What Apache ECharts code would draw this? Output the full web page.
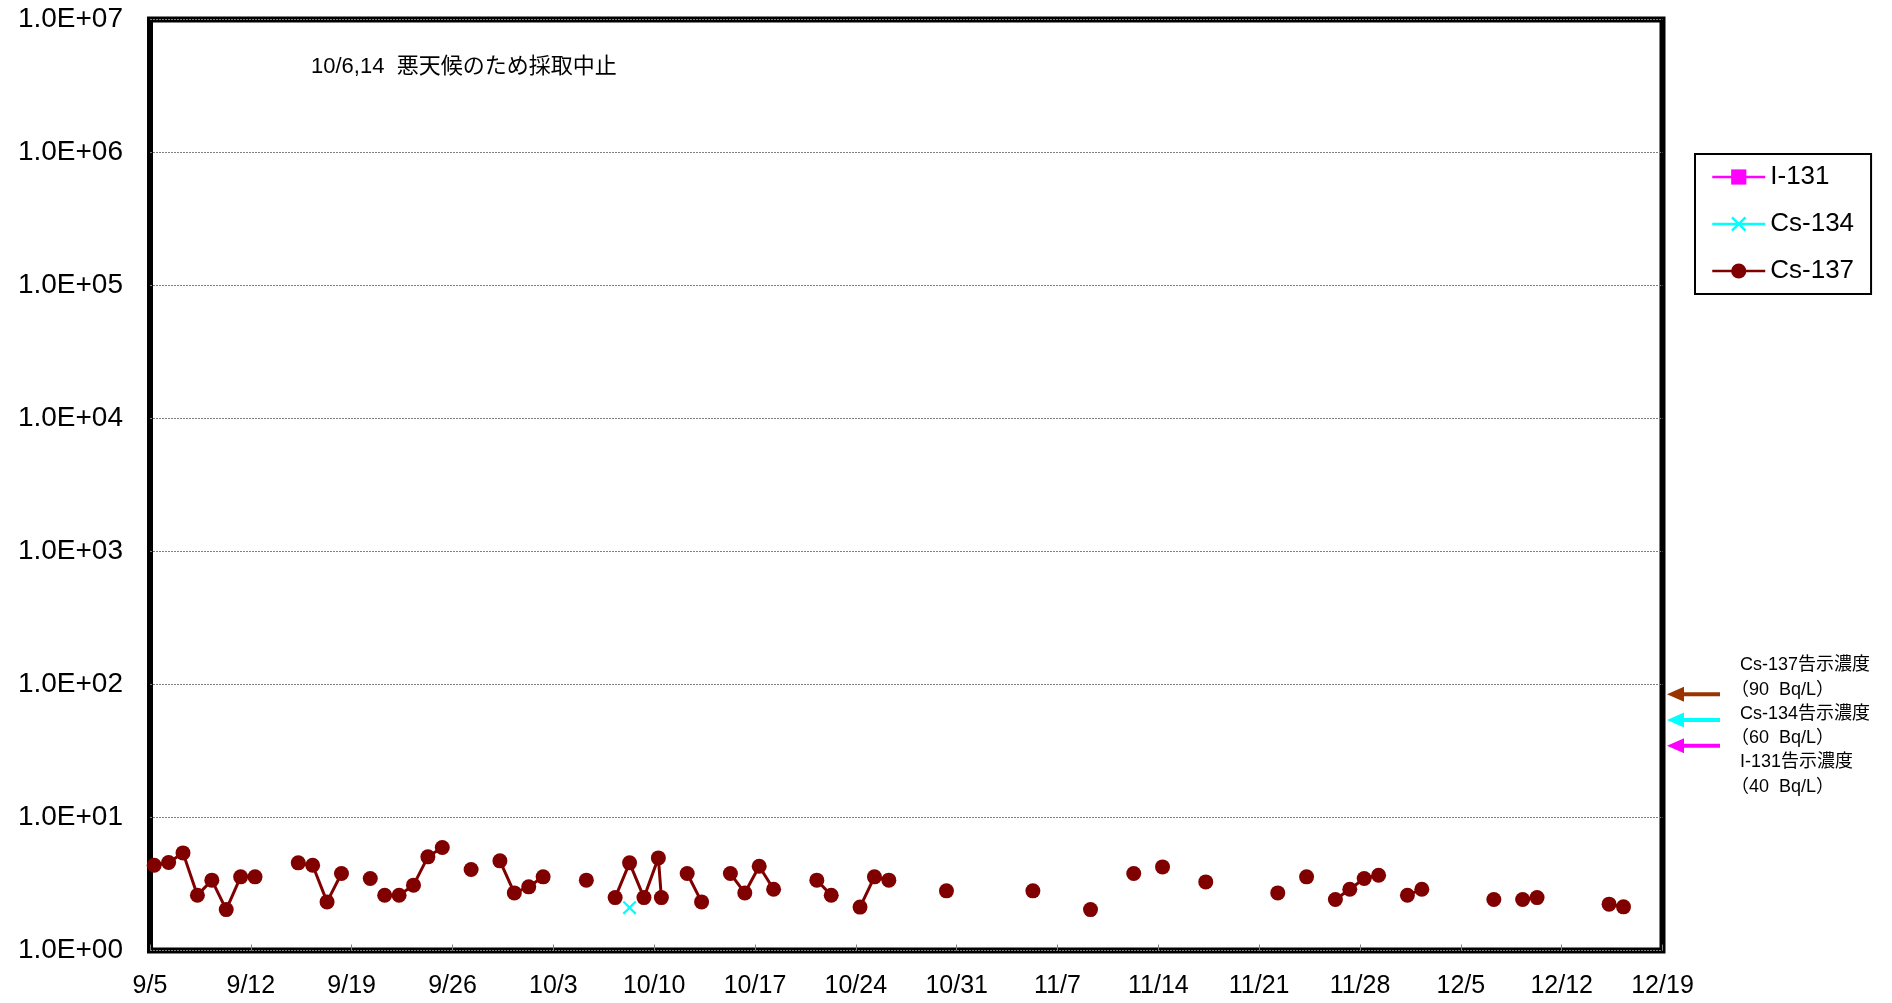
<!DOCTYPE html>
<html>
<head>
<meta charset="utf-8">
<script src="https://cdn.jsdelivr.net/npm/echarts@6/dist/echarts.min.js"></script>
<style>
html,body{margin:0;padding:0;background:#fff;}
#chart{width:1892px;height:1003px;}
</style>
</head>
<body>
<div id="chart"></div>
<script>
// ---- data (Bq/L); null = no sample (line break) ----
const startDate = '9/5';
const xTickLabels = ['9/5','9/12','9/19','9/26','10/3','10/10','10/17','10/24','10/31','11/7','11/14','11/21','11/28','12/5','12/12','12/19'];
const yTickLabels = ['1.0E+00','1.0E+01','1.0E+02','1.0E+03','1.0E+04','1.0E+05','1.0E+06','1.0E+07'];

const cs137Times = [
  '9/5 7:00','9/6 7:00','9/7 7:00','9/8 7:00','9/9 7:00','9/10 7:00','9/11 7:00','9/12 7:00','9/13 7:00',
  '9/15 7:00','9/16 7:00','9/17 7:00','9/18 7:00','9/19 7:00',
  '9/20 7:00','9/21 0:00','9/21 7:00','9/22 7:00','9/23 7:00','9/24 7:00','9/25 7:00','9/26 7:00',
  '9/27 7:00','9/28 7:00',
  '9/29 7:00','9/30 7:00','10/1 7:00','10/2 7:00','10/3 7:00',
  '10/5 7:00','10/6 7:00',
  '10/7 7:00','10/8 7:00','10/9 7:00','10/10 7:00','10/10 12:00','10/11 7:00',
  '10/12 7:00','10/13 7:00','10/14 7:00',
  '10/15 7:00','10/16 7:00','10/17 7:00','10/18 7:00','10/19 7:00',
  '10/21 7:00','10/22 7:00','10/23 7:00',
  '10/24 7:00','10/25 7:00','10/26 7:00','10/27 7:00',
  '10/30 7:00','10/31 7:00',
  '11/5 7:00','11/6 7:00',
  '11/9 7:00','11/10 7:00',
  '11/12 7:00','11/13 7:00',
  '11/14 7:00','11/15 7:00',
  '11/17 7:00','11/18 7:00',
  '11/22 7:00','11/23 7:00',
  '11/24 7:00','11/25 7:00',
  '11/26 7:00','11/27 7:00','11/28 7:00','11/29 7:00','11/30 7:00',
  '12/1 7:00','12/2 7:00','12/3 7:00',
  '12/7 7:00','12/8 7:00',
  '12/9 7:00','12/10 7:00','12/11 7:00',
  '12/15 7:00','12/16 7:00'
];
const cs137Values = [
  4.38,4.59,5.42,2.60,3.38,2.03,3.58,3.58,null,
  4.56,4.38,2.32,3.79,null,
  3.48,null,2.60,2.60,3.10,5.06,5.95,null,
  4.06,null,
  4.72,2.71,3.01,3.58,null,
  3.38,null,
  2.50,4.56,2.50,4.97,2.50,null,
  3.79,2.32,null,
  3.79,2.71,4.30,2.89,null,
  3.38,2.60,null,
  2.12,3.58,3.38,null,
  2.81,null,
  2.81,null,
  2.03,null,
  3.79,null,
  4.25,null,
  3.28,null,
  2.71,null,
  3.58,null,
  2.42,2.89,3.48,3.68,null,
  2.60,2.89,null,
  2.42,null,
  2.42,2.50,null,
  2.23,2.13
];
const cs134Times = ['10/8 7:00'];
const cs134Values = [2.10];
const i131Times = [];
const i131Values = [];

const topNote = '10/6,14  悪天候のため採取中止';
const limitNotes = ['Cs-137告示濃度','（90  Bq/L）','Cs-134告示濃度','（60  Bq/L）','I-131告示濃度','（40  Bq/L）'];

// ---- helpers ----
const YEAR = 2011;
function toUTC(s){
  const [md, hm] = s.split(' ');
  const [m, d] = md.split('/').map(Number);
  const [h, mi] = (hm || '0:00').split(':').map(Number);
  return Date.UTC(YEAR, m - 1, d, h, mi);
}
const t0 = toUTC(startDate + ' 0:00');
const dayOf = s => (toUTC(s) - t0) / 86400000;
function pairs(times, vals){ return times.map((t, i) => [dayOf(t), vals[i] === null ? '-' : vals[i]]); }
function labelOf(v){
  const d = new Date(t0 + v * 86400000);
  return (d.getUTCMonth() + 1) + '/' + d.getUTCDate();
}
const xMax = dayOf(xTickLabels[xTickLabels.length - 1] + ' 0:00');

const LATIN = '"Liberation Sans", Arial, "Noto Sans CJK JP", sans-serif';
const xPath = 'path://M0,1.4L1.4,0L6,4.6L10.6,0L12,1.4L7.4,6L12,10.6L10.6,12L6,7.4L1.4,12L0,10.6L4.6,6Z';

const chart = echarts.init(document.getElementById('chart'), null, {renderer: 'canvas'});

function arrow(y, color){
  return [
    {type:'rect', shape:{x:1680, y:y-2, width:40, height:4}, style:{fill:color}, silent:true},
    {type:'polygon', shape:{points:[[1667,y],[1684,y-7.5],[1684,y+7.5]]}, style:{fill:color}, silent:true}
  ];
}
const noteY = [667, 692, 716.3, 740.3, 764.5, 788.7];
const noteGraphics = limitNotes.map((t, i) => ({
  type:'text', left: (t.charAt(0) === '（') ? 1731 : 1740, top: noteY[i] - 11,
  style:{text:t, font:'18px ' + LATIN, fill:'#000'}, silent:true
}));

chart.setOption({
  animation:false,
  backgroundColor:'#fff',
  grid:{left:150, right:229.5, top:19.5, bottom:52.5, show:true, borderColor:'#000', borderWidth:6, backgroundColor:'transparent'},
  legend:{
    orient:'vertical', left:1695, top:154,
    data:['I-131','Cs-134','Cs-137'],
    itemWidth:53, itemHeight:19, itemGap:21,
    padding:[10,17,10,16],
    borderColor:'#000', borderWidth:2, backgroundColor:'#fff',
    lineStyle:{width:2.5},
    textStyle:{fontSize:26, fontFamily:LATIN, color:'#000', lineHeight:26}
  },
  xAxis:{
    type:'value', min:0, max:xMax, interval:7,
    axisLine:{show:false},
    axisTick:{show:true, inside:true, length:6, lineStyle:{color:'#808080', width:1}},
    splitLine:{show:false},
    axisLabel:{formatter:labelOf, fontSize:25, fontFamily:LATIN, color:'#000', margin:23, showMinLabel:true, showMaxLabel:true}
  },
  yAxis:{
    type:'log', logBase:10, min:1, max:1e7, splitNumber:7,
    axisLine:{show:false},
    axisTick:{show:false},
    minorTick:{show:false},
    splitLine:{show:true, lineStyle:{color:'#808080', width:1, type:[2,1]}},
    axisLabel:{
      formatter: v => yTickLabels[Math.round(Math.log10(v))],
      fontSize:28, fontFamily:LATIN, color:'#000', margin:27, padding:[7,0,0,0]
    }
  },
  series:[
    {name:'I-131', type:'line', data:pairs(i131Times, i131Values), symbol:'rect', symbolSize:15,
     itemStyle:{color:'#FF00FF'}, lineStyle:{color:'#FF00FF', width:2}},
    {name:'Cs-134', type:'line', data:pairs(cs134Times, cs134Values), symbol:xPath, symbolSize:14,
     itemStyle:{color:'#00FFFF'}, lineStyle:{color:'#00FFFF', width:2}, z:3},
    {name:'Cs-137', type:'line', data:pairs(cs137Times, cs137Values), symbol:'circle', symbolSize:15,
     connectNulls:false, showAllSymbol:true,
     itemStyle:{color:'#800000'}, lineStyle:{color:'#800000', width:3}, z:2}
  ],
  graphic:[
    {type:'text', left:311, top:56, style:{text:topNote, font:'22px ' + LATIN, fill:'#000'}, silent:true},
    ...arrow(694.3, '#993300'),
    ...arrow(720, '#00FFFF'),
    ...arrow(745.7, '#FF00FF'),
    ...noteGraphics
  ]
});
</script>
</body>
</html>
